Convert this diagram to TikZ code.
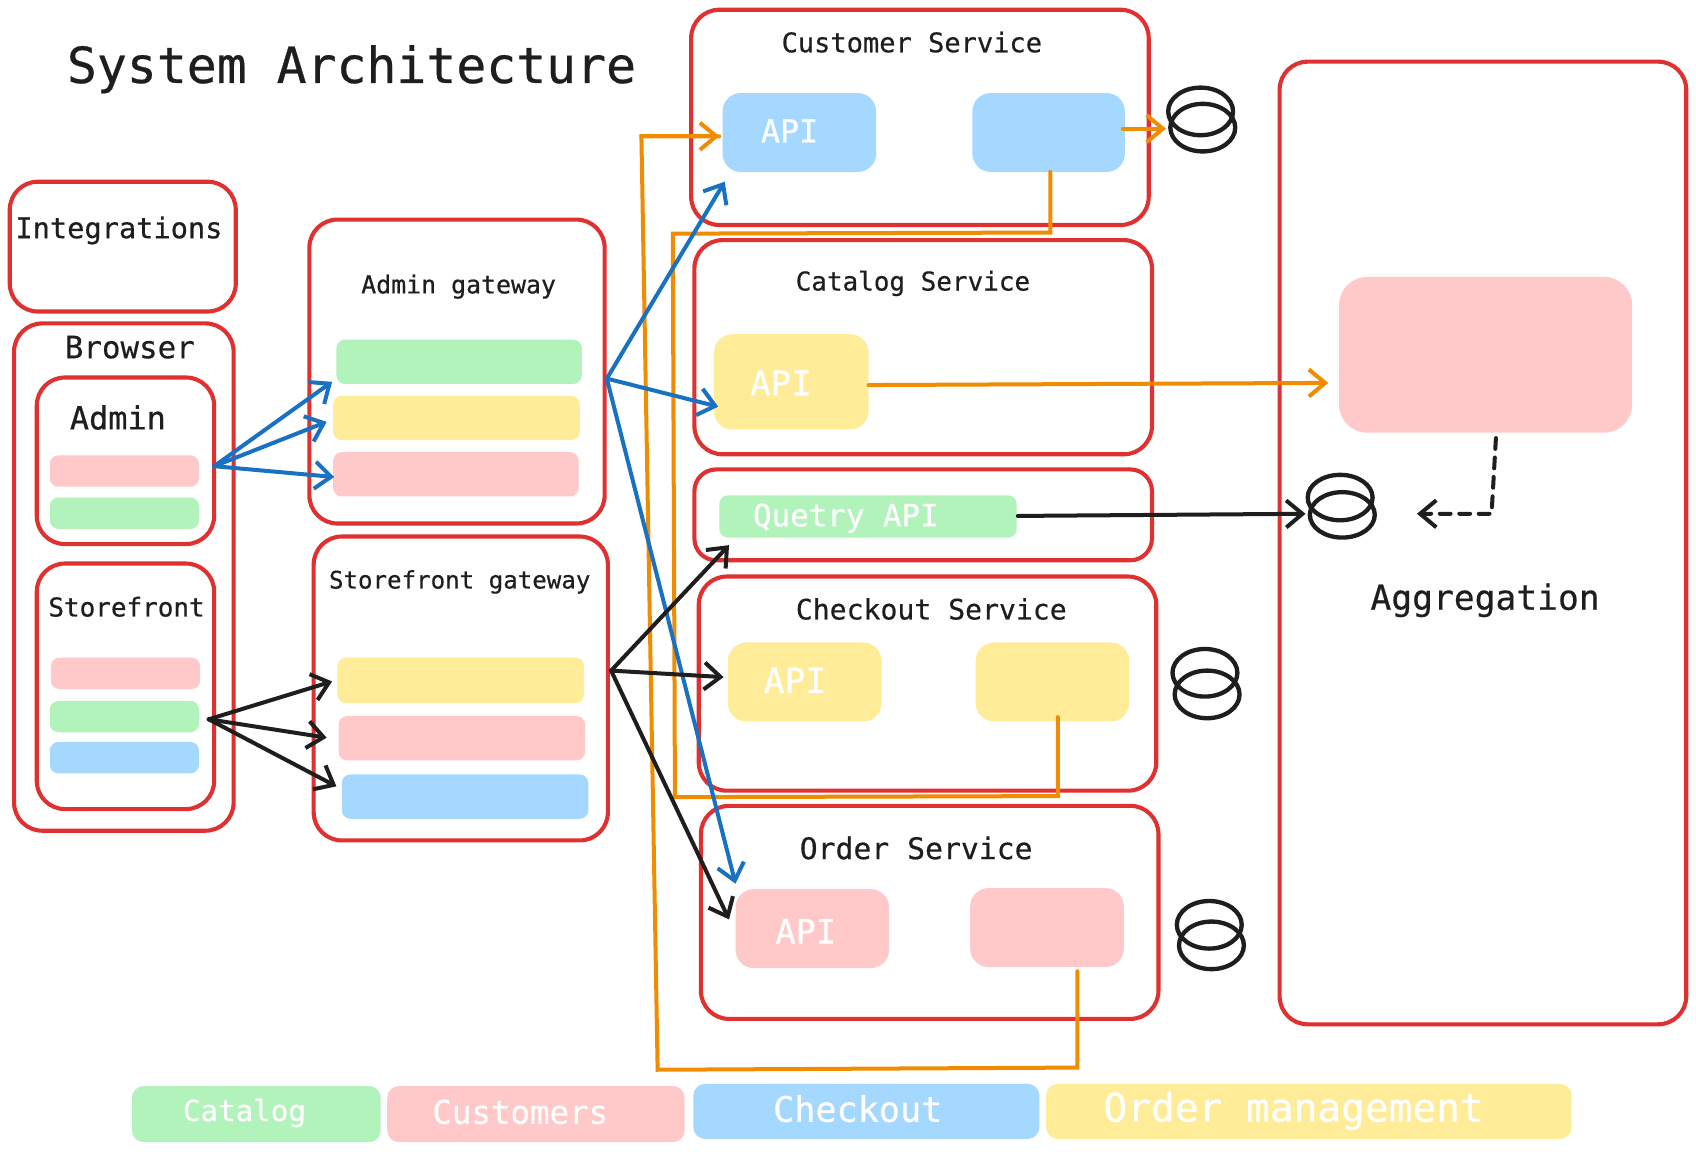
\documentclass[tikz,border=0pt]{standalone}
\usepackage{fontspec}
\usetikzlibrary{arrows.meta,shapes.geometric}
\newfontfamily\handf[FakeBold=0.5]{DejaVu Sans Mono}
\definecolor{cred}{HTML}{E03131}
\definecolor{cgreen}{HTML}{B2F2BB}
\definecolor{cyellow}{HTML}{FFEC99}
\definecolor{cpink}{HTML}{FFC9C9}
\definecolor{cblue}{HTML}{A5D8FF}
\definecolor{cink}{HTML}{1E1E1E}
\definecolor{corange}{HTML}{F08C00}
\definecolor{carrow}{HTML}{1971C2}
\newcommand{\bx}[6]{%
  \pgfmathsetmacro\bw{#5-#3}\pgfmathsetmacro\bh{#6-#4}%
  \node[#2,minimum width=\bw pt,minimum height=\bh pt,anchor=north west] (#1) at (#3,#4) {};}
\newcommand{\tx}[6]{\node[labeltext,text=#5,font=\handf\fontsize{#4}{#4}\selectfont] (#1) at (#2,#3) {#6};}
\newcommand{\db}[5]{%
  \node[dbring,minimum width=60pt,minimum height=#5pt] (#1a) at (#2,#3) {};
  \node[dbring,minimum width=60pt,minimum height=#5pt] (#1b) at (#2+2,#3+#4) {};}
\tikzset{
  x=1pt,y=-1pt,
  redbox/.style={draw=cred,line width=3.8pt,rounded corners=26pt,inner sep=0pt,outer sep=0pt},
  redsmall/.style={redbox,rounded corners=20pt},
  fillbox/.style={fill=#1,draw=none,rounded corners=8pt,inner sep=0pt,outer sep=0pt},
  apibox/.style={fill=#1,draw=none,rounded corners=17pt,inner sep=0pt,outer sep=0pt},
  bigbox/.style={fill=#1,draw=none,rounded corners=26pt,inner sep=0pt,outer sep=0pt},
  legendbox/.style={fill=#1,draw=none,rounded corners=11pt,inner sep=0pt,outer sep=0pt},
  labeltext/.style={inner sep=0pt,outer sep=0pt,anchor=center},
  dbring/.style={draw=cink,line width=4pt,ellipse,inner sep=0pt,outer sep=0pt},
  conn/.style={line width=3.7pt,-{Straight Barb[length=15pt,width=25pt,line width=3.7pt]},line cap=round,line join=round},
  blueconn/.style={conn,draw=carrow},
  blackconn/.style={conn,draw=cink},
  orangeconn/.style={conn,draw=corange},
  orangeline/.style={line width=3.7pt,draw=corange,line cap=round,line join=miter},
}
\begin{document}
\begin{tikzpicture}
\useasboundingbox[fill=white] (0,0) rectangle (1568,1065);

% red containers
\bx{customer}{redbox}{639}{9}{1062}{208}
\bx{catalog}{redbox}{642}{222}{1065}{420}
\bx{query}{redsmall}{642}{434}{1065}{518}
\bx{checkout}{redbox}{646}{533}{1069}{731}
\bx{order}{redbox}{648}{745}{1071}{942}
\bx{aggregation}{redbox}{1183}{57}{1559}{947}
\bx{integrations}{redbox}{9}{168}{218}{288}
\bx{browser}{redbox}{13}{299}{216}{768}
\bx{admin}{redbox}{34}{349}{198}{503}
\bx{storefront}{redbox}{34}{521}{198}{748}
\bx{admingw}{redbox}{286}{203}{559}{484}
\bx{storegw}{redbox}{290}{496}{562}{777}

% small colour bars
\bx{adminp}{fillbox=cpink}{46}{421}{184}{450}
\bx{adming}{fillbox=cgreen}{46}{460}{184}{489}
\bx{storep}{fillbox=cpink}{47}{608}{185}{637}
\bx{storeg}{fillbox=cgreen}{46}{648}{184}{677}
\bx{storeb}{fillbox=cblue}{46}{686}{184}{715}
\bx{agwg}{fillbox=cgreen}{311}{314}{538}{355}
\bx{agwy}{fillbox=cyellow}{308}{366}{536}{407}
\bx{agwp}{fillbox=cpink}{308}{418}{535}{459}
\bx{sgwy}{fillbox=cyellow}{312}{608}{540}{650}
\bx{sgwp}{fillbox=cpink}{313}{662}{541}{703}
\bx{sgwb}{fillbox=cblue}{316}{716}{544}{757}

% service boxes
\bx{custapi}{apibox=cblue}{668}{86}{810}{159}
\bx{custdb}{apibox=cblue}{899}{86}{1040}{159}
\bx{catapi}{apibox=cyellow}{660}{309}{803}{397}
\bx{queryapi}{fillbox=cgreen}{665}{458}{940}{497}
\bx{checkapi}{apibox=cyellow}{673}{594}{815}{667}
\bx{checkdb}{apibox=cyellow}{902}{594}{1044}{667}
\bx{orderapi}{apibox=cpink}{680}{822}{822}{895}
\bx{orderdb}{apibox=cpink}{897}{821}{1039}{894}
\bx{aggbox}{bigbox=cpink}{1238}{256}{1509}{400}

% legend
\bx{legcat}{legendbox=cgreen}{122}{1004}{352}{1056}
\bx{legcus}{legendbox=cpink}{358}{1004}{633}{1056}
\bx{legche}{legendbox=cblue}{641}{1002}{961}{1053}
\bx{legord}{legendbox=cyellow}{967}{1002}{1453}{1053}

% databases
\db{dbcust}{1110}{103}{15}{44}
\db{dbcheck}{1114}{622}{20}{44}
\db{dborder}{1118}{855}{19}{44}
\db{dbagg}{1239}{460}{16}{42}

% end points
\coordinate (adminout) at (198,431);
\coordinate (a1) at (307,353); \coordinate (a2) at (302,390); \coordinate (a3) at (309,441);
\coordinate (storeout) at (193,665);
\coordinate (s1) at (307,630); \coordinate (s2) at (302,682); \coordinate (s3) at (311,727);
\coordinate (agwout) at (561,350);
\coordinate (b1) at (670,168); \coordinate (b2) at (664,376); \coordinate (b3) at (680,817);
\coordinate (sgwout) at (565,620);
\coordinate (k1) at (674,504); \coordinate (k2) at (669,626); \coordinate (k3) at (674,850);
\coordinate (o1) at (996,898); \coordinate (o2) at (996,987); \coordinate (o3) at (608,989); \coordinate (o4) at (593,126); \coordinate (o5) at (665,126);
\coordinate (c1) at (971,159); \coordinate (c2) at (971,215); \coordinate (c3) at (622,216); \coordinate (c4) at (624,737); \coordinate (c5) at (978,736); \coordinate (c6) at (978,663);
\coordinate (d1) at (1038,119); \coordinate (d2) at (1078,119);
\coordinate (e1) at (803,356); \coordinate (e2) at (1228,354);
\coordinate (q1) at (941,477); \coordinate (q2) at (1207,475);
\coordinate (g1) at (1383,405); \coordinate (g2) at (1379,475); \coordinate (g3) at (1310,475);

% orange
\draw[orangeline] (o1) -- (o2) -- (o3) -- (o4) -- (o5);
\draw[orangeconn] (o4) -- (o5);
\draw[orangeline] (c1) -- (c2) -- (c3) -- (c4) -- (c5) -- (c6);
\draw[orangeconn] (d1) -- (d2);
\draw[orangeconn] (e1) -- (e2);

% blue
\foreach \t in {a1,a2,a3} \draw[blueconn] (adminout) -- (\t);
\foreach \t in {b1,b2,b3} \draw[blueconn] (agwout) -- (\t);
% black
\foreach \t in {s1,s2,s3} \draw[blackconn] (storeout) -- (\t);
\foreach \t in {k1,k2,k3} \draw[blackconn] (sgwout) -- (\t);
\draw[blackconn] (q1) -- (q2);
\draw[blackconn,dashed,dash pattern=on 10pt off 8pt] (g1) -- (g2) -- (g3);

% labels
\tx{title}{325}{64}{46}{cink}{System Architecture}
\tx{tcust}{843}{39}{25}{cink}{Customer Service}
\tx{tcat}{844}{262}{24}{cink}{Catalog Service}
\tx{tcheck}{861}{563}{26}{cink}{Checkout Service}
\tx{torder}{847}{784}{27.5}{cink}{Order Service}
\tx{tint}{110}{213}{26.5}{cink}{Integrations}
\tx{tbrow}{120}{321}{28.5}{cink}{Browser}
\tx{tadm}{109}{386}{29.5}{cink}{Admin}
\tx{tstore}{117}{561}{24}{cink}{Storefront}
\tx{tagw}{424}{265}{23}{cink}{Admin gateway}
\tx{tsgw}{425}{538}{22.3}{cink}{Storefront gateway}
\tx{tagg}{1373}{555}{32}{cink}{Aggregation}
\tx{tapi1}{730}{121}{29.3}{white}{API}
\tx{tapi2}{722}{354}{31.5}{white}{API}
\tx{tapi3}{782}{479}{28.5}{white}{Quetry API}
\tx{tapi4}{735}{629}{32}{white}{API}
\tx{tapi5}{745}{861}{31}{white}{API}
\tx{lcat}{226}{1029}{27}{white}{Catalog}
\tx{lcus}{481}{1028}{30}{white}{Customers}
\tx{lche}{793}{1025}{32.5}{white}{Checkout}
\tx{lord}{1196}{1027}{36.5}{white}{Order management}
\end{tikzpicture}
\end{document}
